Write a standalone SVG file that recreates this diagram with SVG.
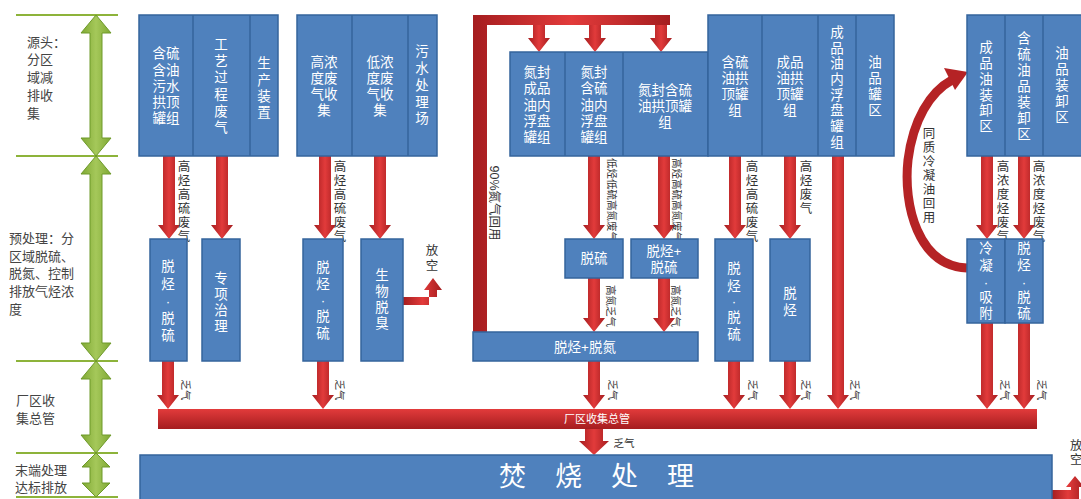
<svg xmlns="http://www.w3.org/2000/svg" width="1081" height="499" viewBox="0 0 1081 499">
<defs>
<linearGradient id="rv" x1="0" y1="0" x2="1" y2="0">
<stop offset="0" stop-color="#A51D1F"/><stop offset="0.5" stop-color="#E23B3B"/><stop offset="1" stop-color="#A51D1F"/>
</linearGradient>
<linearGradient id="rh" x1="0" y1="0" x2="0" y2="1">
<stop offset="0" stop-color="#E23B3B"/><stop offset="1" stop-color="#A51D1F"/>
</linearGradient>
<linearGradient id="gv" x1="0" y1="0" x2="1" y2="0">
<stop offset="0" stop-color="#7FA833"/><stop offset="0.5" stop-color="#A5C85A"/><stop offset="1" stop-color="#7FA833"/>
</linearGradient>
</defs>
<style>
text{font-family:"Liberation Sans","Noto Sans CJK SC",sans-serif;dominant-baseline:central;text-anchor:middle}
.bx{fill:#4F81BD;stroke:#35649C;stroke-width:1.5}
.dv{stroke:#35649C;stroke-width:1.5}
.wt{fill:#fff;font-size:13.5px}
.lb{fill:#333;font-size:12.5px}
.sm{fill:#333;font-size:10.5px}
.ra{fill:url(#rv)}
.rh{fill:url(#rh)}
.gl{stroke:#8DB33A;stroke-width:2}
.ga{fill:url(#gv);stroke:#6E9A2A;stroke-width:1}
.lt{fill:#444;font-size:13px;text-anchor:start}
</style>

<g id="left-axis">
<line class="gl" x1="16" y1="15" x2="118" y2="15"/>
<line class="gl" x1="16" y1="156" x2="118" y2="156"/>
<line class="gl" x1="16" y1="361" x2="118" y2="361"/>
<line class="gl" x1="16" y1="453" x2="118" y2="453"/>
<line class="gl" x1="16" y1="497" x2="118" y2="497"/>
<polygon class="ga" points="96,15 111,33 102,33 102,138 111,138 96,156 81,138 90,138 90,33 81,33"/>
<polygon class="ga" points="96,156 111,174 102,174 102,343 111,343 96,361 81,343 90,343 90,174 81,174"/>
<polygon class="ga" points="96,361 111,379 102,379 102,435 111,435 96,453 81,435 90,435 90,379 81,379"/>
<polygon class="ga" points="96,453 110,467 102,467 102,483 110,483 96,497 82,483 90,483 90,467 82,467"/>
<text class="lt"><tspan x="27" y="42">源头：</tspan><tspan x="27" y="59">分区</tspan><tspan x="27" y="77">域减</tspan><tspan x="27" y="95">排收</tspan><tspan x="27" y="113">集</tspan></text>
<text class="lt"><tspan x="9" y="238">预处理：分</tspan><tspan x="9" y="256">区域脱硫、</tspan><tspan x="9" y="273">脱氮、控制</tspan><tspan x="9" y="291">排放气烃浓</tspan><tspan x="9" y="309">度</tspan></text>
<text class="lt"><tspan x="16" y="400">厂区收</tspan><tspan x="16" y="418">集总管</tspan></text>
<text class="lt"><tspan x="15" y="470">末端处理</tspan><tspan x="15" y="487">达标排放</tspan></text>
</g>

<g id="connectors">
<polygon class="ra" points="163,156 175,156 175,225 180,225 169,239 158,225 163,225"/>
<polygon class="ra" points="216,156 228,156 228,225 233,225 222,239 211,225 216,225"/>
<polygon class="ra" points="319,156 331,156 331,225 336,225 325,239 314,225 319,225"/>
<polygon class="ra" points="374,156 386,156 386,225 391,225 380,239 369,225 374,225"/>
<polygon class="ra" points="473,15 670,15 670,25 487,25 487,332 473,332"/>
<polygon class="ra" points="533,25 545,25 545,38 550,38 539,52 528,38 533,38"/>
<polygon class="ra" points="589,25 601,25 601,38 606,38 595,52 584,38 589,38"/>
<polygon class="ra" points="655,25 667,25 667,38 672,38 661,52 650,38 655,38"/>
<polygon class="ra" points="588,156 600,156 600,225 605,225 594,239 583,225 588,225"/>
<polygon class="ra" points="658,156 670,156 670,225 675,225 664,239 653,225 658,225"/>
<polygon class="ra" points="588,278 600,278 600,318 605,318 594,332 583,318 588,318"/>
<polygon class="ra" points="658,278 670,278 670,318 675,318 664,332 653,318 658,318"/>
<polygon class="ra" points="729,156 741,156 741,225 746,225 735,239 724,225 729,225"/>
<polygon class="ra" points="784,156 796,156 796,225 801,225 790,239 779,225 784,225"/>
<polygon class="ra" points="981,156 993,156 993,225 998,225 987,239 976,225 981,225"/>
<polygon class="ra" points="1018,156 1030,156 1030,225 1035,225 1024,239 1013,225 1018,225"/>
<polygon class="ra" points="162,361 174,361 174,395 179,395 168,409 157,395 162,395"/>
<polygon class="ra" points="317,361 329,361 329,395 334,395 323,409 312,395 317,395"/>
<polygon class="ra" points="588,361 600,361 600,395 605,395 594,409 583,395 588,395"/>
<polygon class="ra" points="728,361 740,361 740,395 745,395 734,409 723,395 728,395"/>
<polygon class="ra" points="784,361 796,361 796,395 801,395 790,409 779,395 784,395"/>
<polygon class="ra" points="832,156 844,156 844,395 849,395 838,409 827,395 832,395"/>
<polygon class="ra" points="981,323 993,323 993,395 998,395 987,409 976,395 981,395"/>
<polygon class="ra" points="1018,323 1030,323 1030,395 1035,395 1024,409 1013,395 1018,395"/>
<rect class="rh" x="158" y="409" width="879" height="20"/>
<polygon class="ra" points="585,429 603,429 603,441 609,441 594,455 579,441 585,441"/>
<polygon class="ra" points="403,297 437,297 437,290 442,290 433,278 424,290 429,290 429,305 403,305"/>
<polygon class="ra" points="1052,490 1071,490 1071,487 1066,487 1075,476 1084,487 1079,487 1079,499 1052,499"/>
<path d="M967,268 C918,266 903,205 908,160 C913,120 930,92 952,80" fill="none" stroke="#B52325" stroke-width="9"/>
<polygon fill="#B52325" points="944,68 968,72 955,90"/>
</g>

<g id="labels">
<text class="lb"><tspan x="184" y="167">高</tspan><tspan x="184" y="181">烃</tspan><tspan x="184" y="195">高</tspan><tspan x="184" y="209">硫</tspan><tspan x="184" y="223">废</tspan><tspan x="184" y="237">气</tspan></text>
<text class="lb"><tspan x="340" y="167">高</tspan><tspan x="340" y="181">烃</tspan><tspan x="340" y="195">高</tspan><tspan x="340" y="209">硫</tspan><tspan x="340" y="223">废</tspan><tspan x="340" y="237">气</tspan></text>
<text class="lb"><tspan x="752" y="167">高</tspan><tspan x="752" y="181">烃</tspan><tspan x="752" y="195">高</tspan><tspan x="752" y="209">硫</tspan><tspan x="752" y="223">废</tspan><tspan x="752" y="237">气</tspan></text>
<text class="lb"><tspan x="806" y="167">高</tspan><tspan x="806" y="181">烃</tspan><tspan x="806" y="195">废</tspan><tspan x="806" y="209">气</tspan></text>
<text class="lb"><tspan x="1003" y="167">高</tspan><tspan x="1003" y="181">浓</tspan><tspan x="1003" y="195">度</tspan><tspan x="1003" y="209">烃</tspan><tspan x="1003" y="223">废</tspan><tspan x="1003" y="237">气</tspan></text>
<text class="lb"><tspan x="1039" y="167">高</tspan><tspan x="1039" y="181">浓</tspan><tspan x="1039" y="195">度</tspan><tspan x="1039" y="209">烃</tspan><tspan x="1039" y="223">废</tspan><tspan x="1039" y="237">气</tspan></text>
<text class="lb"><tspan x="432" y="251">放</tspan><tspan x="432" y="266">空</tspan></text>
<text class="lb"><tspan x="929" y="134">同</tspan><tspan x="929" y="148">质</tspan><tspan x="929" y="162">冷</tspan><tspan x="929" y="176">凝</tspan><tspan x="929" y="190">油</tspan><tspan x="929" y="204">回</tspan><tspan x="929" y="218">用</tspan></text>
<text class="lb" transform="translate(494,203) rotate(90)">90%氮气回用</text>
<text class="sm" transform="translate(612,200) rotate(90)">低烃低硫高氮废气</text>
<text class="sm" transform="translate(677,200) rotate(90)">高烃高硫高氮废气</text>
<text class="sm" transform="translate(611,306) rotate(90)">高氮乏气</text>
<text class="sm" transform="translate(676,306) rotate(90)">高氮乏气</text>
<text class="sm" transform="translate(186,390) rotate(90)">乏气</text>
<text class="sm" transform="translate(340,390) rotate(90)">乏气</text>
<text class="sm" transform="translate(613,390) rotate(90)">乏气</text>
<text class="sm" transform="translate(753,390) rotate(90)">乏气</text>
<text class="sm" transform="translate(806,390) rotate(90)">乏气</text>
<text class="sm" transform="translate(855,390) rotate(90)">乏气</text>
<text class="sm" transform="translate(1005,390) rotate(90)">乏气</text>
<text class="sm" transform="translate(1042,390) rotate(90)">乏气</text>
<text class="sm" x="624" y="443">乏气</text>
<text x="597" y="419" style="fill:#fff;font-size:11px">厂区收集总管</text>
<text class="lb" style="text-anchor:start"><tspan x="1070" y="446">放</tspan><tspan x="1070" y="460">空</tspan></text>
</g>

<g id="group-1">
<rect class="bx" x="139" y="15" width="139" height="141"/>
<line class="dv" x1="193" y1="15" x2="193" y2="156"/><line class="dv" x1="250" y1="15" x2="250" y2="156"/>
<text class="wt"><tspan x="166" y="53">含硫</tspan><tspan x="166" y="70">含油</tspan><tspan x="166" y="86">污水</tspan><tspan x="166" y="102">拱顶</tspan><tspan x="166" y="118">罐组</tspan></text>
<text class="wt"><tspan x="221" y="44">工</tspan><tspan x="221" y="61">艺</tspan><tspan x="221" y="77">过</tspan><tspan x="221" y="94">程</tspan><tspan x="221" y="111">废</tspan><tspan x="221" y="127">气</tspan></text>
<text class="wt"><tspan x="264" y="63">生</tspan><tspan x="264" y="80">产</tspan><tspan x="264" y="96">装</tspan><tspan x="264" y="112">置</tspan></text>
</g>

<g id="group-2">
<rect class="bx" x="297" y="15" width="140" height="141"/>
<line class="dv" x1="352" y1="15" x2="352" y2="156"/><line class="dv" x1="408" y1="15" x2="408" y2="156"/>
<text class="wt"><tspan x="324" y="62">高浓</tspan><tspan x="324" y="78">度废</tspan><tspan x="324" y="94">气收</tspan><tspan x="324" y="110">集</tspan></text>
<text class="wt"><tspan x="380" y="62">低浓</tspan><tspan x="380" y="78">度废</tspan><tspan x="380" y="94">气收</tspan><tspan x="380" y="110">集</tspan></text>
<text class="wt"><tspan x="422" y="51">污</tspan><tspan x="422" y="68">水</tspan><tspan x="422" y="85">处</tspan><tspan x="422" y="102">理</tspan><tspan x="422" y="118">场</tspan></text>
</g>

<g id="group-3">
<rect class="bx" x="510" y="52" width="198" height="104"/>
<line class="dv" x1="565" y1="52" x2="565" y2="156"/><line class="dv" x1="623" y1="52" x2="623" y2="156"/>
<text class="wt"><tspan x="537" y="72">氮封</tspan><tspan x="537" y="88">成品</tspan><tspan x="537" y="105">油内</tspan><tspan x="537" y="121">浮盘</tspan><tspan x="537" y="137">罐组</tspan></text>
<text class="wt"><tspan x="594" y="72">氮封</tspan><tspan x="594" y="88">含硫</tspan><tspan x="594" y="105">油内</tspan><tspan x="594" y="121">浮盘</tspan><tspan x="594" y="137">罐组</tspan></text>
<text class="wt"><tspan x="665" y="90">氮封含硫</tspan><tspan x="665" y="106">油拱顶罐</tspan><tspan x="665" y="122">组</tspan></text>
</g>

<g id="group-4">
<rect class="bx" x="708" y="15" width="186" height="141"/>
<line class="dv" x1="762" y1="15" x2="762" y2="156"/><line class="dv" x1="818" y1="15" x2="818" y2="156"/><line class="dv" x1="856" y1="15" x2="856" y2="156"/>
<text class="wt"><tspan x="735" y="62">含硫</tspan><tspan x="735" y="78">油拱</tspan><tspan x="735" y="94">顶罐</tspan><tspan x="735" y="110">组</tspan></text>
<text class="wt"><tspan x="790" y="62">成品</tspan><tspan x="790" y="78">油拱</tspan><tspan x="790" y="94">顶罐</tspan><tspan x="790" y="110">组</tspan></text>
<text class="wt"><tspan x="837" y="32">成</tspan><tspan x="837" y="48">品</tspan><tspan x="837" y="63">油</tspan><tspan x="837" y="79">内</tspan><tspan x="837" y="95">浮</tspan><tspan x="837" y="110">盘</tspan><tspan x="837" y="126">罐</tspan><tspan x="837" y="142">组</tspan></text>
<text class="wt"><tspan x="875" y="62">油</tspan><tspan x="875" y="78">品</tspan><tspan x="875" y="94">罐</tspan><tspan x="875" y="110">区</tspan></text>
</g>

<g id="group-5">
<rect class="bx" x="967" y="15" width="116" height="141"/>
<line class="dv" x1="1005" y1="15" x2="1005" y2="156"/><line class="dv" x1="1043" y1="15" x2="1043" y2="156"/>
<text class="wt"><tspan x="986" y="47">成</tspan><tspan x="986" y="63">品</tspan><tspan x="986" y="79">油</tspan><tspan x="986" y="95">装</tspan><tspan x="986" y="110">卸</tspan><tspan x="986" y="126">区</tspan></text>
<text class="wt"><tspan x="1024" y="38">含</tspan><tspan x="1024" y="54">硫</tspan><tspan x="1024" y="70">油</tspan><tspan x="1024" y="86">品</tspan><tspan x="1024" y="102">装</tspan><tspan x="1024" y="118">卸</tspan><tspan x="1024" y="134">区</tspan></text>
<text class="wt"><tspan x="1062" y="53">油</tspan><tspan x="1062" y="69">品</tspan><tspan x="1062" y="85">装</tspan><tspan x="1062" y="101">卸</tspan><tspan x="1062" y="117">区</tspan></text>
</g>

<g id="box-tuoting-tuoliu-1">
<rect class="bx" x="150" y="239" width="37" height="122"/>
<text class="wt"><tspan x="168" y="266">脱</tspan><tspan x="168" y="284">烃</tspan><tspan x="168" y="301">·</tspan><tspan x="168" y="318">脱</tspan><tspan x="168" y="335">硫</tspan></text>
</g>
<g id="box-zhuanxiang">
<rect class="bx" x="202" y="239" width="38" height="122"/>
<text class="wt"><tspan x="221" y="278">专</tspan><tspan x="221" y="294">项</tspan><tspan x="221" y="310">治</tspan><tspan x="221" y="326">理</tspan></text>
</g>
<g id="box-tuoting-tuoliu-2">
<rect class="bx" x="303" y="239" width="40" height="122"/>
<text class="wt"><tspan x="323" y="267">脱</tspan><tspan x="323" y="284">烃</tspan><tspan x="323" y="300">·</tspan><tspan x="323" y="316">脱</tspan><tspan x="323" y="333">硫</tspan></text>
</g>
<g id="box-shengwu">
<rect class="bx" x="361" y="239" width="42" height="122"/>
<text class="wt"><tspan x="382" y="275">生</tspan><tspan x="382" y="291">物</tspan><tspan x="382" y="307">脱</tspan><tspan x="382" y="323">臭</tspan></text>
</g>
<g id="box-tuoliu">
<rect class="bx" x="565" y="239" width="58" height="39"/>
<text class="wt" x="594" y="258">脱硫</text>
</g>
<g id="box-tuoting-tuoliu-3">
<rect class="bx" x="631" y="239" width="67" height="39"/>
<text class="wt"><tspan x="664" y="251">脱烃+</tspan><tspan x="664" y="267">脱硫</tspan></text>
</g>
<g id="box-tuoting-tuodan">
<rect class="bx" x="473" y="332" width="225" height="29"/>
<text class="wt" x="585" y="347">脱烃+脱氮</text>
</g>
<g id="box-tuoting-tuoliu-4">
<rect class="bx" x="715" y="239" width="38" height="122"/>
<text class="wt"><tspan x="734" y="268">脱</tspan><tspan x="734" y="286">烃</tspan><tspan x="734" y="301">·</tspan><tspan x="734" y="317">脱</tspan><tspan x="734" y="334">硫</tspan></text>
</g>
<g id="box-tuoting">
<rect class="bx" x="770" y="239" width="40" height="122"/>
<text class="wt"><tspan x="790" y="293">脱</tspan><tspan x="790" y="310">烃</tspan></text>
</g>
<g id="box-lengning">
<rect class="bx" x="967" y="239" width="38" height="84"/>
<text class="wt"><tspan x="986" y="248">冷</tspan><tspan x="986" y="265">凝</tspan><tspan x="986" y="282">·</tspan><tspan x="986" y="297">吸</tspan><tspan x="986" y="313">附</tspan></text>
</g>
<g id="box-tuoting-tuoliu-5">
<rect class="bx" x="1005" y="239" width="38" height="84"/>
<text class="wt"><tspan x="1024" y="248">脱</tspan><tspan x="1024" y="265">烃</tspan><tspan x="1024" y="282">·</tspan><tspan x="1024" y="297">脱</tspan><tspan x="1024" y="313">硫</tspan></text>
</g>

<g id="incineration">
<rect class="bx" x="140" y="455" width="912" height="50"/>
<text x="611" y="477" style="fill:#fff;font-size:27px" letter-spacing="29">焚烧处理</text>
</g>
</svg>
